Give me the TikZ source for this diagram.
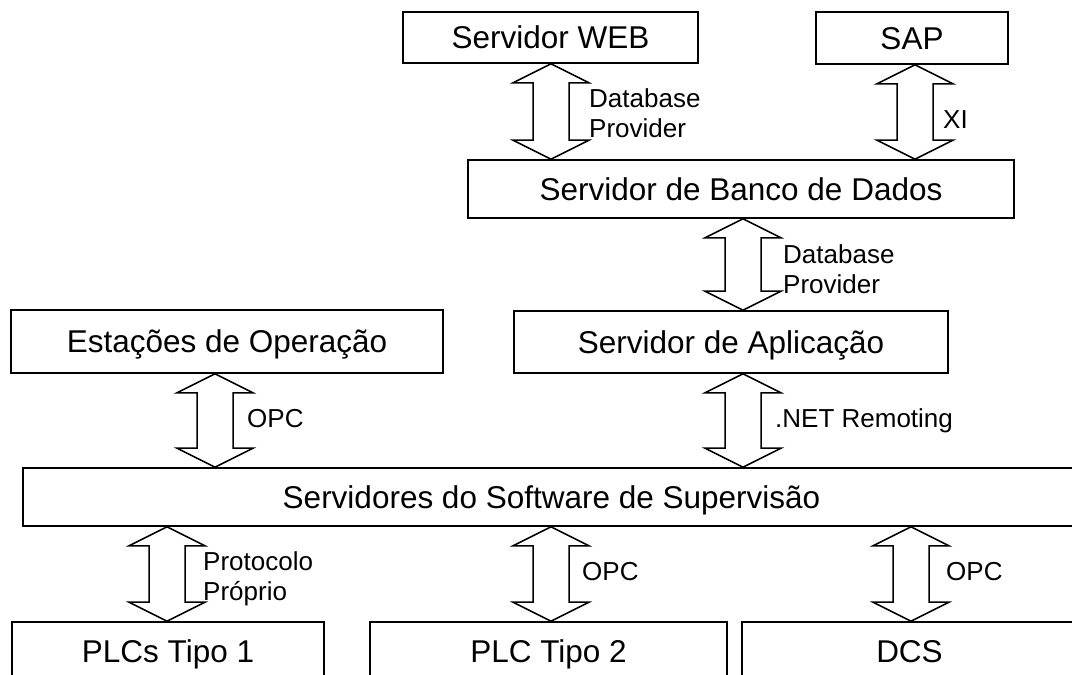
\documentclass[tikz,border=0pt]{standalone}
\usepackage{fontspec}
\setmainfont{Liberation Sans}
\usetikzlibrary{calc}

\tikzset{
  unit/.style={draw, line width=1.6pt, rectangle, inner sep=0pt, fill=white,
    font=\fontsize{31.5}{36}\selectfont, text height=22.5pt, text depth=0pt},
  tag/.style={anchor=base west, inner sep=0pt, font=\fontsize{26}{30}\selectfont},
  duplex/.style={draw, line width=1.5pt, line join=miter, fill=white}
}

% two-headed block arrow at abscissa #1, from node #2 (above) to node #3 (below)
\newcommand\duplexlink[3]{%
  \draw[duplex] let \p1=(#1,0 |- #2.south), \p2=(#1,0 |- #3.north) in
    (\p1) -- (\x1+38pt,\y1-19pt) -- (\x1+18pt,\y1-19pt) -- (\x1+18pt,\y2+19pt)
    -- (\x1+38pt,\y2+19pt) -- (\p2) -- (\x1-38pt,\y2+19pt) -- (\x1-18pt,\y2+19pt)
    -- (\x1-18pt,\y1-19pt) -- (\x1-38pt,\y1-19pt) -- cycle;}

\begin{document}
\begin{tikzpicture}[x=1pt, y=-1pt]
  \path[use as bounding box] (0,0) rectangle (1072,675);
  \clip (0,0) rectangle (1072,675);
  \fill[white] (0,0) rectangle (1072,675);

  % systems
  \node[unit, minimum width=295, minimum height=51] (web)   at (550.5,37.5) {Servidor WEB};
  \node[unit, minimum width=192, minimum height=52] (sap)   at (912,38)     {SAP};
  \node[unit, minimum width=546, minimum height=58] (banco) at (741,189)    {Servidor de Banco de Dados};
  \node[unit, minimum width=432, minimum height=63] (est)   at (227,341.5)  {Estações de Operação};
  \node[unit, minimum width=434, minimum height=62] (app)   at (731,342)    {Servidor de Aplicação};
  \node[unit, minimum width=1057, minimum height=58] (sup)  at (551.5,497)  {Servidores do Software de Supervisão};
  \node[unit, minimum width=312, minimum height=58] (plc1)  at (168,651)    {PLCs Tipo 1};
  \node[unit, minimum width=357, minimum height=58] (plc2)  at (548.5,651)  {PLC Tipo 2};
  \node[unit, minimum width=335, minimum height=58] (dcs)   at (909.5,651)  {DCS};

  % links
  \duplexlink{551}{web}{banco}
  \duplexlink{915}{sap}{banco}
  \duplexlink{743}{banco}{app}
  \duplexlink{215}{est}{sup}
  \duplexlink{743}{app}{sup}
  \duplexlink{167}{sup}{plc1}
  \duplexlink{551}{sup}{plc2}
  \duplexlink{911}{sup}{dcs}

  % link labels
  \node[tag] (dbwa) at (589,107) {Database};
  \node[tag] (dbwb) at (589,137) {Provider};
  \node[tag] (xi)   at (943,128) {XI};
  \node[tag] (dbaa) at (783,263) {Database};
  \node[tag] (dbab) at (783,293) {Provider};
  \node[tag] (opce) at (247,427) {OPC};
  \node[tag] (net)  at (775,427) {.NET Remoting};
  \node[tag] (prta) at (203,570) {Protocolo};
  \node[tag] (prtb) at (203,600) {Próprio};
  \node[tag] (opcp) at (582,580) {OPC};
  \node[tag] (opcd) at (946,580) {OPC};
\end{tikzpicture}
\end{document}
